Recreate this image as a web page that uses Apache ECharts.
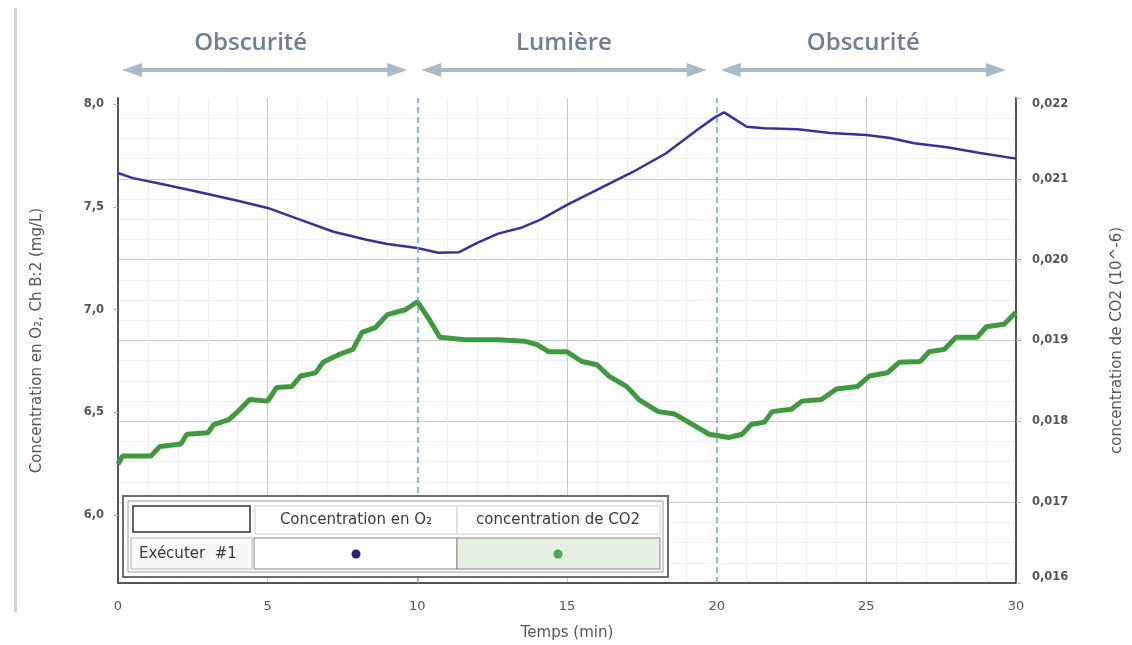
<!DOCTYPE html>
<html><head><meta charset="utf-8">
<script src="https://cdn.jsdelivr.net/npm/echarts@6/dist/echarts.min.js"></script>
<style>html,body{margin:0;padding:0;background:#fff}#c{width:1132px;height:645px}</style>
</head><body><div id="c"></div>
<script>
// ---- data ----
const phaseLabels = ['Obscurité', 'Lumière', 'Obscurité'];
const phaseBounds = [0, 10, 20, 30];
const xTicks = [0, 5, 10, 15, 20, 25, 30];
const o2Ticks = [6.0, 6.5, 7.0, 7.5, 8.0];
const tO2 = [0,0.5,1.5,2.7,4.0,5.0,6.1,7.2,8.3,9.0,10.0,10.7,11.4,12.0,12.7,13.5,14.1,15.0,16.1,17.2,18.3,19.4,19.95,20.25,20.5,21.0,21.6,22.7,23.8,25.0,25.8,26.6,27.7,28.8,30.0];
const o2Values = [7.665,7.64,7.61,7.573,7.53,7.495,7.437,7.379,7.34,7.32,7.30,7.277,7.28,7.325,7.37,7.40,7.437,7.51,7.59,7.67,7.76,7.88,7.937,7.96,7.937,7.89,7.883,7.878,7.86,7.85,7.835,7.81,7.79,7.762,7.735];
const tCO2 = [0,0.15,1.1,1.4,2.1,2.3,3.0,3.2,3.7,4.0,4.4,5.0,5.3,5.8,6.1,6.6,6.85,7.4,7.85,8.15,8.6,9.0,9.6,10.0,10.4,10.75,11.6,12.7,13.6,14.0,14.4,15.0,15.5,16.0,16.4,17.0,17.4,18.05,18.6,19.2,19.75,20.4,20.85,21.15,21.6,21.85,22.5,22.85,23.5,24.0,24.7,25.1,25.7,26.1,26.8,27.1,27.6,28.0,28.7,29.0,29.6,30.0];
const co2Values = [0.01747,0.01757,0.01757,0.01769,0.01772,0.01784,0.01786,0.01796,0.01802,0.01812,0.01827,0.01825,0.01842,0.01843,0.01856,0.01860,0.01873,0.01883,0.01889,0.01910,0.01916,0.01932,0.01938,0.01948,0.01926,0.01904,0.01901,0.01901,0.01899,0.01895,0.01886,0.01886,0.01874,0.01870,0.01856,0.01843,0.01827,0.01812,0.01809,0.01796,0.01784,0.01780,0.01784,0.01796,0.01799,0.01812,0.01815,0.01825,0.01827,0.01840,0.01843,0.01856,0.01860,0.01873,0.01874,0.01886,0.01889,0.01904,0.01904,0.01917,0.01920,0.01935];
const seriesNames = ['Concentration en O₂', 'concentration de CO2'];
const runLabel = 'Exécuter  #1';

// ---- chart ----
const comma = v => String(v).replace('.', ',');
const FONT = 'DejaVu Sans';
const chart = echarts.init(document.getElementById('c'), null, {renderer: 'canvas'});
const gridCol = '#c9c9c9';
const option = {
  backgroundColor: '#ffffff',
  animation: false,
  grid: {left: 118, right: 116, top: 98, bottom: 62, outerBoundsMode: 'none', containLabel: false},
  xAxis: {
    type: 'value', min: 0, max: 30, interval: 5,
    name: 'Temps (min)', nameLocation: 'middle', nameGap: 43,
    nameTextStyle: {color: '#555', fontSize: 15, fontFamily: FONT},
    axisLine: {show: true, onZero: false, lineStyle: {color: '#555', width: 2}},
    axisTick: {show: false},
    axisLabel: {color: '#555', fontSize: 13, fontFamily: FONT, margin: 17},
    splitLine: {show: true, lineStyle: {color: ['transparent', gridCol, 'transparent', gridCol, 'transparent', gridCol, 'transparent'], width: 1}},
    minorSplitLine: {show: true, lineStyle: {color: '#f1f1f1', width: 1}},
    minorTick: {show: false, splitNumber: 5}
  },
  yAxis: [
    {
      type: 'value', position: 'left', min: 5.67, max: 8.03,
      name: 'Concentration en O₂, Ch B:2 (mg/L)', nameLocation: 'middle', nameGap: 73, nameRotate: 90,
      nameTextStyle: {color: '#555', fontSize: 15, fontFamily: FONT},
      axisLine: {show: true, lineStyle: {color: '#555', width: 2}},
      axisTick: {show: true, customValues: o2Ticks, length: 5, lineStyle: {color: '#bbb'}},
      axisLabel: {customValues: o2Ticks, color: '#555', fontSize: 11.5, fontWeight: 'bold', fontFamily: FONT, margin: 14,
        formatter: v => comma(Number(v).toFixed(1))},
      splitLine: {show: false}
    },
    {
      type: 'value', position: 'right', min: 0.016, max: 0.022, interval: 0.001,
      name: 'concentration de CO2 (10^-6)', nameLocation: 'middle', nameGap: 94, nameRotate: 90,
      nameTextStyle: {color: '#555', fontSize: 15, fontFamily: FONT},
      axisLine: {show: true, lineStyle: {color: '#555', width: 2}},
      axisTick: {show: true, length: 5, lineStyle: {color: '#bbb'}},
      axisLabel: {color: '#555', fontSize: 11.5, fontWeight: 'bold', fontFamily: FONT, margin: 16,
        verticalAlignMinLabel: 'bottom', verticalAlignMaxLabel: 'top',
        formatter: v => comma(Number(v).toFixed(3))},
      splitLine: {show: true, lineStyle: {color: ['transparent', gridCol, gridCol, gridCol, gridCol, gridCol, 'transparent'], width: 1}},
      minorSplitLine: {show: true, lineStyle: {color: '#f1f1f1', width: 1}},
      minorTick: {show: false, splitNumber: 4}
    }
  ],
  series: [
    {
      name: seriesNames[1], type: 'line', yAxisIndex: 1, showSymbol: false, symbol: 'none',
      data: tCO2.map((t, i) => [t, co2Values[i]]),
      lineStyle: {color: '#3f9a3f', width: 5}, z: 3,
      markLine: {
        silent: true, symbol: 'none', label: {show: false},
        lineStyle: {color: '#5aaec6', type: [6, 4], width: 1.5},
        data: [{xAxis: phaseBounds[1]}, {xAxis: phaseBounds[2]}]
      }
    },
    {
      name: seriesNames[0], type: 'line', yAxisIndex: 0, showSymbol: false, symbol: 'none',
      data: tO2.map((t, i) => [t, o2Values[i]]),
      lineStyle: {color: '#3b2f9c', width: 2.5}, z: 4
    }
  ]
};
chart.setOption(option);

// ---- annotations (phase headers, arrows, legend table) ----
const px = t => chart.convertToPixel({xAxisIndex: 0}, t);
const arrowCol = '#a8bac9';
const labelShift = [-14, 0, 0];
const g = [];
g.push({type: 'rect', shape: {x: 14, y: 8, width: 3, height: 604}, style: {fill: '#c9d6e0'}});
for (let i = 0; i < 3; i++) {
  const a = px(phaseBounds[i]) + 4, b = px(phaseBounds[i + 1]) - 10;
  const y = 70;
  g.push({type: 'text', style: {text: phaseLabels[i], x: (a + b) / 2 + labelShift[i], y: 43, align: 'center', verticalAlign: 'middle',
    fill: '#6c8194', font: '600 24px "Open Sans"'}});
  g.push({type: 'line', shape: {x1: a + 10, y1: y, x2: b - 10, y2: y}, style: {stroke: arrowCol, lineWidth: 4}});
  g.push({type: 'polygon', shape: {points: [[a, y], [a + 20, y - 7], [a + 20, y + 7]]}, style: {fill: arrowCol}});
  g.push({type: 'polygon', shape: {points: [[b, y], [b - 20, y - 7], [b - 20, y + 7]]}, style: {fill: arrowCol}});
}
// legend table
const lx = 123, ly = 496;
const tf = '15px "DejaVu Sans"';
g.push({type: 'rect', shape: {x: lx, y: ly, width: 545, height: 81}, style: {fill: '#fff', stroke: '#6e6e6e', lineWidth: 2}, z: 50});
g.push({type: 'rect', shape: {x: lx + 5, y: ly + 5, width: 535, height: 71}, style: {fill: '#fbfbfb', stroke: '#a0a0a0', lineWidth: 1}, z: 51});
g.push({type: 'rect', shape: {x: 133, y: 506, width: 117, height: 26}, style: {fill: '#fff', stroke: '#333', lineWidth: 1.5}, z: 52});
g.push({type: 'rect', shape: {x: 255, y: 506, width: 202, height: 28}, style: {fill: '#fff', stroke: '#cfcfcf', lineWidth: 1}, z: 52});
g.push({type: 'rect', shape: {x: 457, y: 506, width: 203, height: 28}, style: {fill: '#fff', stroke: '#cfcfcf', lineWidth: 1}, z: 52});
g.push({type: 'rect', shape: {x: 131, y: 538, width: 121, height: 31}, style: {fill: '#f8f8f8', stroke: '#b5b5b5', lineWidth: 1}, z: 52});
g.push({type: 'rect', shape: {x: 254, y: 538, width: 203, height: 31}, style: {fill: '#fff', stroke: '#8a8a8a', lineWidth: 1}, z: 52});
g.push({type: 'rect', shape: {x: 457, y: 538, width: 203, height: 31}, style: {fill: '#e5f0e3', stroke: '#8a8a8a', lineWidth: 1}, z: 52});
g.push({type: 'text', style: {text: seriesNames[0], x: 356, y: 520, align: 'center', verticalAlign: 'middle', fill: '#3a3a3a', font: tf}, z: 53});
g.push({type: 'text', style: {text: seriesNames[1], x: 558, y: 520, align: 'center', verticalAlign: 'middle', fill: '#3a3a3a', font: tf}, z: 53});
g.push({type: 'text', style: {text: runLabel, x: 139, y: 554, align: 'left', verticalAlign: 'middle', fill: '#3a3a3a', font: tf}, z: 53});
g.push({type: 'circle', shape: {cx: 356, cy: 554, r: 4.5}, style: {fill: '#25237e'}, z: 53});
g.push({type: 'circle', shape: {cx: 558, cy: 554, r: 4.5}, style: {fill: '#4ea44e'}, z: 53});
chart.setOption({graphic: g});
</script></body></html>
